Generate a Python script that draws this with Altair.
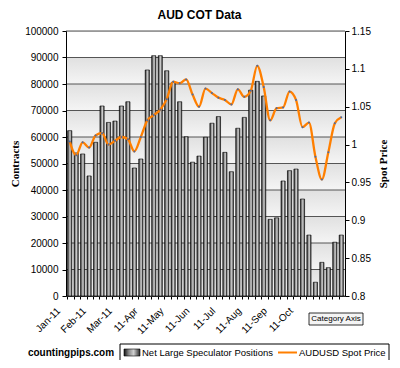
import altair as alt
import pandas as pd

# ---- data ----
weeks = list(range(43))
net_positions = [62400, 54000, 53600, 45300, 58000, 71700, 65500, 66000, 71700, 73300,
                 48300, 51700, 85300, 90700, 90700, 85000, 80600, 73300, 60100, 50500,
                 52800, 59900, 65200, 67700, 54200, 46900, 63300, 67400, 77700, 81000,
                 75500, 28900, 29500, 43400, 47300, 47900, 36600, 23000, 5200, 12700,
                 10700, 20300, 23000]
spot_price = [1.004, 0.986, 1.003, 0.996, 1.012, 1.015, 1.000, 1.005, 1.010, 1.007,
              0.991, 1.010, 1.032, 1.039, 1.046, 1.060, 1.083, 1.081, 1.086, 1.066,
              1.050, 1.074, 1.068, 1.062, 1.059, 1.053, 1.073, 1.063, 1.071, 1.104,
              1.076, 1.032, 1.048, 1.049, 1.070, 1.059, 1.023, 1.029, 0.984, 0.954,
              0.990, 1.028, 1.036]
x_tick_labels = ["Jan-11", "Feb-11", "Mar-11", "11-Apr", "11-May", "11-Jun",
                 "11-Jul", "11-Aug", "11-Sep", "11-Oct"]
left_ticks = [0, 10000, 20000, 30000, 40000, 50000, 60000, 70000, 80000, 90000, 100000]
right_ticks = [0.8, 0.85, 0.9, 0.95, 1.0, 1.05, 1.1, 1.15]

df = pd.DataFrame({"i": weeks, "pos": net_positions, "price": spot_price})
bands = pd.DataFrame({"lo": left_ticks[:-2], "hi": left_ticks[1:-1]})
grid = pd.DataFrame({"v": left_ticks})

W, H = 279, 265
SANS = "Liberation Sans"
SERIF = "Liberation Serif"
ORANGE = "#ff7f00"

bar_grad = alt.Gradient(
    gradient="linear", x1=0, x2=1, y1=0, y2=0,
    stops=[alt.GradientStop(color="#111111", offset=0),
           alt.GradientStop(color="#8a8a8a", offset=0.3),
           alt.GradientStop(color="#d0d0d0", offset=0.6),
           alt.GradientStop(color="#2a2a2a", offset=1)])
band_grad = alt.Gradient(
    gradient="linear", x1=0, x2=0, y1=0, y2=1,
    stops=[alt.GradientStop(color="#e0e0e0", offset=0),
           alt.GradientStop(color="#f5f5f5", offset=1)])

label_arr = "[" + ",".join("'%s'" % s for s in x_tick_labels) + "]"
x_axis = alt.Axis(title=None, labelExpr="datum.value %% 4 == 0 ? %s[datum.value / 4] : ''" % label_arr,
                  labelAngle=-45, labelAlign="right", labelBaseline="middle",
                  labelOverlap=False, labelFont=SANS, labelFontSize=10, labelColor="black",
                  tickSize=3, tickColor="black", domainColor="black", bandPosition=0,
                  labelPadding=10, labelOffset=-11)
x_scale = alt.Scale(paddingInner=0.35, paddingOuter=0.25)

left_axis = alt.Axis(values=left_ticks, format="d", title="Contracts", titleFont=SERIF,
                     titleFontSize=11, titleFontWeight="bold", titleColor="black",
                     labelFont=SANS, labelFontSize=10, labelColor="black", grid=False,
                     tickSize=4, tickColor="black", domainColor="black", zindex=1,
                     labelPadding=4, titlePadding=4)
left_scale = alt.Scale(domain=[0, 100000], nice=False)

band_chart = alt.Chart(bands).mark_rect(fill=band_grad).encode(
    x=alt.value(0), x2=alt.value(W),
    y=alt.Y("hi:Q", scale=left_scale, axis=left_axis), y2="lo:Q")

grid_chart = alt.Chart(grid).mark_rule(color="#555555", strokeWidth=1).encode(
    y=alt.Y("v:Q", scale=left_scale, axis=left_axis))

bar_chart = alt.Chart(df).mark_bar(fill=bar_grad, stroke="#000000", strokeWidth=0.6).encode(
    x=alt.X("i:O", scale=x_scale, axis=x_axis),
    y=alt.Y("pos:Q", scale=left_scale, axis=left_axis))

line_chart = alt.Chart(df).mark_line(
    color=ORANGE, strokeWidth=2.3, interpolate="monotone",
    point=alt.OverlayMarkDef(filled=True, size=4, color="#4a6aa5")).encode(
    x=alt.X("i:O", scale=x_scale, axis=x_axis),
    y=alt.Y("price:Q", scale=alt.Scale(domain=[0.8, 1.15], nice=False, zero=False),
            axis=alt.Axis(orient="right", values=right_ticks, format=".3~g",
                          title="Spot Price", titleAngle=270, titleFont=SERIF,
                          titleFontSize=11, titleFontWeight="bold", titleColor="black",
                          labelFont=SANS, labelFontSize=10, labelColor="black",
                          grid=False, tickSize=4, tickColor="black", domainColor="black",
                          zindex=1, titlePadding=18)))

main = alt.layer(alt.layer(band_chart, grid_chart, bar_chart), line_chart).resolve_scale(y="independent")

one = alt.Data(values=[{}])
deco = [
    # legend box
    alt.Chart(one).mark_rect(fill="white", stroke="black", strokeWidth=1).encode(
        x=alt.value(54), x2=alt.value(323), y=alt.value(313), y2=alt.value(330)),
    alt.Chart(one).mark_rect(fill=bar_grad, stroke="black", strokeWidth=0.6).encode(
        x=alt.value(58), x2=alt.value(74), y=alt.value(318), y2=alt.value(325)),
    alt.Chart(one).mark_text(align="left", baseline="middle", font=SANS, fontSize=9.5,
                             color="black").encode(
        x=alt.value(76), y=alt.value(321.5), text=alt.value("Net Large Speculator Positions")),
    alt.Chart(one).mark_rule(color=ORANGE, strokeWidth=2).encode(
        x=alt.value(212), x2=alt.value(231), y=alt.value(321.5)),
    alt.Chart(one).mark_text(align="left", baseline="middle", font=SANS, fontSize=9.5,
                             color="black").encode(
        x=alt.value(233), y=alt.value(321.5), text=alt.value("AUDUSD Spot Price")),
    alt.Chart(one).mark_text(align="center", baseline="middle", font=SANS, fontSize=10,
                             fontWeight="bold", color="black").encode(
        x=alt.value(5), y=alt.value(321.5), text=alt.value("countingpips.com")),
    # tooltip box
    alt.Chart(one).mark_rect(fill="#f4f4f4", stroke="black", strokeWidth=0.8).encode(
        x=alt.value(243), x2=alt.value(297), y=alt.value(282), y2=alt.value(294)),
    alt.Chart(one).mark_text(align="center", baseline="middle", font=SANS, fontSize=8,
                             color="black").encode(
        x=alt.value(270), y=alt.value(288), text=alt.value("Category Axis")),
]

chart = alt.layer(main, *deco).properties(
    width=W, height=H,
    title=alt.TitleParams("AUD COT Data", font=SANS, fontSize=12, fontWeight="bold",
                          anchor="middle", dx=-6, offset=4, color="black"),
    autosize=alt.AutoSizeParams(type="none"),
    padding={"left": 58, "top": 23, "right": 47, "bottom": 64},
).configure_view(stroke=None).configure(background="white")

chart.save("out.html", embed_options={"renderer": "svg", "actions": False})
